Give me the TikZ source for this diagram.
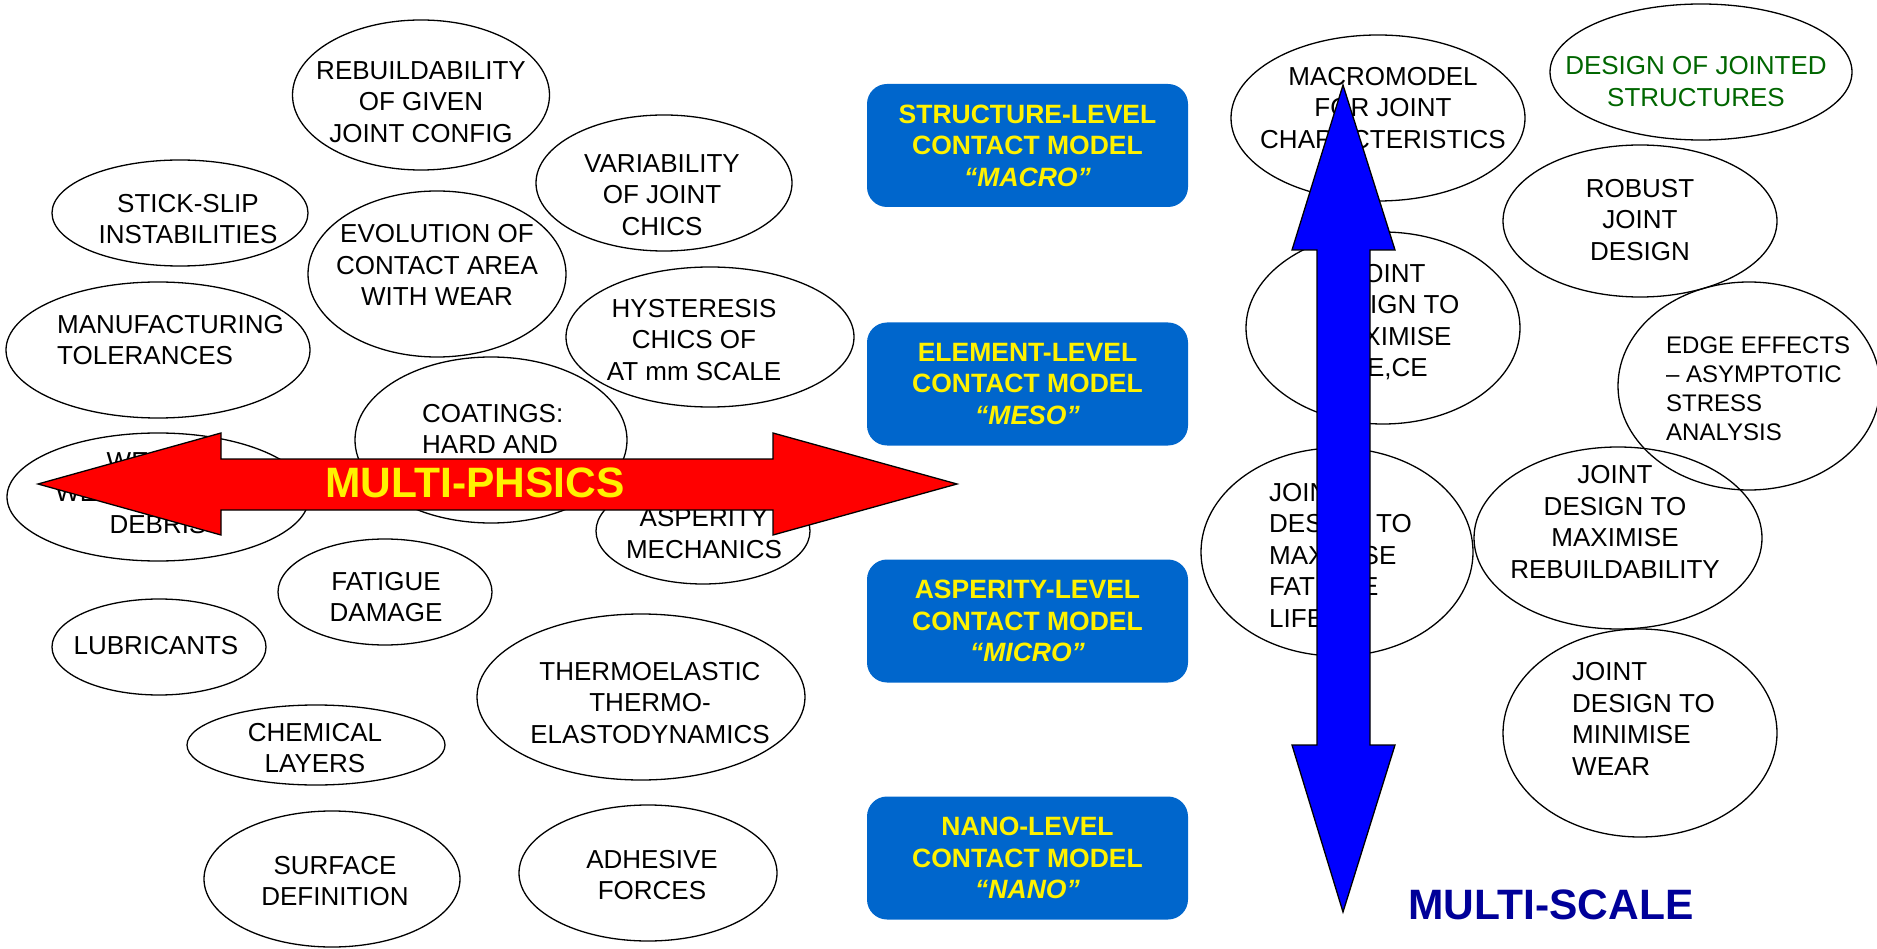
\documentclass[tikz,border=0pt]{standalone}
\usepackage{fontspec}
\setmainfont{Liberation Sans}
\usetikzlibrary{shapes.geometric}
\definecolor{levelblue}{RGB}{0,102,204}
\definecolor{scaleblue}{RGB}{0,0,153}
\definecolor{designgreen}{RGB}{0,102,0}

\tikzset{
  bubble/.style={draw, ellipse, line width=1.3pt, inner sep=0pt},
  bubtext/.style={inner sep=0pt, align=center, font=\fontsize{26}{31.5}\selectfont},
  levelbox/.style={fill=levelblue, rounded corners=20pt, minimum width=321pt, minimum height=123pt,
    inner sep=0pt, align=center, text=yellow, font=\bfseries\fontsize{26.5}{31.5}\selectfont},
  bigword/.style={inner sep=0pt, font=\bfseries\fontsize{42.5}{50}\selectfont}
}

\begin{document}
\begin{tikzpicture}[x=1pt, y=-1pt]
\useasboundingbox (0,0) rectangle (1877,949);

% Physics bubbles
\node[bubble, minimum width=257pt, minimum height=150pt] (rebuild) at (421,95) {};
\node[bubtext] (rebuild-t) at (421,102) {REBUILDABILITY\\OF GIVEN\\JOINT CONFIG};
\node[bubble, minimum width=256pt, minimum height=106pt] (stick) at (180,213) {};
\node[bubtext] (stick-t) at (188,219) {STICK-SLIP\\INSTABILITIES};
\node[bubble, minimum width=304pt, minimum height=136pt] (manuf) at (158,350) {};
\node[bubtext, align=left, anchor=west] (manuf-t) at (57,340) {MANUFACTURING\\TOLERANCES};
\node[bubble, minimum width=258pt, minimum height=166pt] (evol) at (437,274) {};
\node[bubtext] (evol-t) at (437,265) {EVOLUTION OF\\CONTACT AREA\\WITH WEAR};
\node[bubble, minimum width=272pt, minimum height=166pt] (coat) at (491,440) {};
\node[bubtext, align=left, anchor=west] (coat-t) at (422,445) {COATINGS:\\HARD AND\\SOFT};
\node[bubble, minimum width=256pt, minimum height=136pt] (variab) at (664,183) {};
\node[bubtext] (variab-t) at (662,195) {VARIABILITY\\OF JOINT\\CHICS};
\node[bubble, minimum width=288pt, minimum height=140pt] (hyst) at (710,337) {};
\node[bubtext] (hyst-t) at (694,340) {HYSTERESIS\\CHICS OF\\AT mm SCALE};
\node[bubble, minimum width=302pt, minimum height=128pt] (wear) at (158,497) {};
\node[bubtext] (wear-t) at (158,493) {WEAR \&\\WEAR-INDUCED\\DEBRIS};
\node[bubble, minimum width=214pt, minimum height=106pt] (asper) at (703,531) {};
\node[bubtext] (asper-t) at (704,533.5) {ASPERITY\\MECHANICS};
\node[bubble, minimum width=214pt, minimum height=106pt] (fatig) at (385,592) {};
\node[bubtext] (fatig-t) at (386,597) {FATIGUE\\DAMAGE};
\node[bubble, minimum width=214pt, minimum height=96pt] (lubr) at (159,647) {};
\node[bubtext] (lubr-t) at (156,646) {LUBRICANTS};
\node[bubble, minimum width=328pt, minimum height=166pt] (thermo) at (641,697) {};
\node[bubtext] (thermo-t) at (650,703) {THERMOELASTIC\\THERMO-\\ELASTODYNAMICS};
\node[bubble, minimum width=258pt, minimum height=80pt] (chem) at (316,745) {};
\node[bubtext] (chem-t) at (315,748) {CHEMICAL\\LAYERS};
\node[bubble, minimum width=256pt, minimum height=136pt] (surf) at (332,879) {};
\node[bubtext] (surf-t) at (335,881) {SURFACE\\DEFINITION};
\node[bubble, minimum width=258pt, minimum height=136pt] (adhes) at (648,873) {};
\node[bubtext] (adhes-t) at (652,875) {ADHESIVE\\FORCES};

% Contact model levels
\foreach \y/\lvl/\tag/\name in {145.5/STRUCTURE/MACRO/lvlmacro, 384/ELEMENT/MESO/lvlmeso,
    621/ASPERITY/MICRO/lvlmicro, 858/NANO/NANO/lvlnano}
  \node[levelbox] (\name) at (1027.5,\y) {\lvl-LEVEL\\CONTACT MODEL\\\textit{“\tag”}};

% Design bubbles
\node[bubble, minimum width=294pt, minimum height=166pt] (macromod) at (1378,118) {};
\node[bubtext] (macromod-t) at (1383,108) {MACROMODEL\\FOR JOINT\\CHARACTERISTICS};
\node[bubble, minimum width=302pt, minimum height=136pt] (jointed) at (1701,72) {};
\node[bubtext, text=designgreen] (jointed-t) at (1696,81.5) {DESIGN OF JOINTED\\STRUCTURES};
\node[bubble, minimum width=274pt, minimum height=152pt] (robust) at (1640,221) {};
\node[bubtext] (robust-t) at (1640,220) {ROBUST\\JOINT\\DESIGN};
\node[bubble, minimum width=274pt, minimum height=192pt] (maxce) at (1383,328) {};
\node[bubtext] (maxce-t) at (1388,322) {JOINT\\DESIGN TO\\MAXIMISE\\RE,CE};
\node[bubble, minimum width=262pt, minimum height=208pt] (edge) at (1749,386) {};
\node[bubtext, align=left, anchor=west, font=\fontsize{24}{29}\selectfont] (edge-t) at (1666,388.5)
  {EDGE EFFECTS\\– ASYMPTOTIC\\STRESS\\ANALYSIS};
\node[bubble, minimum width=272pt, minimum height=208pt] (fatlife) at (1337,552) {};
\node[bubtext, align=left, anchor=west] (fatlife-t) at (1269,555) {JOINT\\DESIGN TO\\MAXIMISE\\FATIGUE\\LIFE};
\node[bubble, minimum width=288pt, minimum height=182pt] (rebuildj) at (1618,538) {};
\node[bubtext] (rebuildj-t) at (1615,522) {JOINT\\DESIGN TO\\MAXIMISE\\REBUILDABILITY};
\node[bubble, minimum width=274pt, minimum height=208pt] (minwear) at (1640,733) {};
\node[bubtext, align=left, anchor=west] (minwear-t) at (1572,719) {JOINT\\DESIGN TO\\MINIMISE\\WEAR};

% Multi-physics arrow
\draw[line width=1.3pt, fill=red] (38,484) -- (221,433) -- (221,459) -- (773,459) -- (773,433)
  -- (957,484) -- (773,535) -- (773,510) -- (221,510) -- (221,535) -- cycle;
\node[bigword, text=yellow] (physics) at (475,482.5) {MULTI-PHSICS};

% Multi-scale arrow
\draw[line width=1.3pt, fill=blue] (1343,85) -- (1395,250) -- (1370,250) -- (1370,745) -- (1395,745)
  -- (1343,912) -- (1292,745) -- (1317,745) -- (1317,250) -- (1292,250) -- cycle;
\node[bigword, text=scaleblue] (scale) at (1551,904.5) {MULTI-SCALE};
\end{tikzpicture}
\end{document}
